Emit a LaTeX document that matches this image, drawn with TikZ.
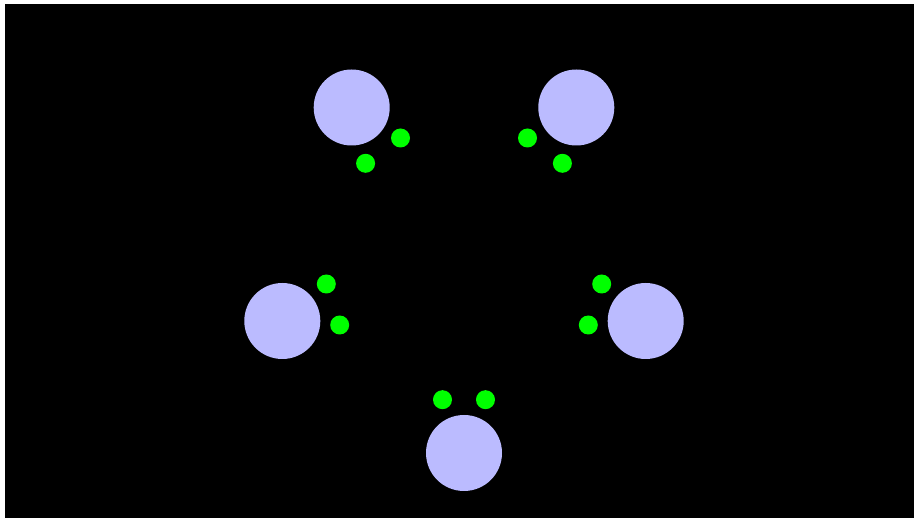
\documentclass[tikz,border=0pt]{standalone}
\usepackage{xcolor}
\usepackage{tikz}

\definecolor{lavender}{RGB}{187,187,255}
\definecolor{dotgreen}{RGB}{0,255,0}

\begin{document}
\begin{tikzpicture}[x=1pt, y=-1pt, every node/.style={circle, inner sep=0pt},
    big/.style={fill=lavender, minimum size=76pt},
    small/.style={fill=dotgreen, minimum size=19pt}]
        % Background
        \fill[white] (0,0) rectangle (914,518);
        \fill[black] (5,4) rectangle (914,518);

        % Nodes
        \node[big] (topleft) at (351.7,107.5) {};
        \node[big] (topright) at (576.3,107.5) {};
        \node[big] (left) at (282.3,321) {};
        \node[big] (right) at (645.7,321) {};
        \node[big] (bottom) at (464,453) {};

        % Dots
        \node[small] (topleft1) at (400.5,138) {};
        \node[small] (topleft2) at (365.6,163.3) {};
        \node[small] (topright1) at (527.5,138) {};
        \node[small] (topright2) at (562.4,163.3) {};
        \node[small] (left1) at (326.3,284) {};
        \node[small] (left2) at (339.7,325) {};
        \node[small] (right1) at (601.7,284) {};
        \node[small] (right2) at (588.3,325) {};
        \node[small] (bottom1) at (442.5,399.7) {};
        \node[small] (bottom2) at (485.5,399.7) {};
    \end{tikzpicture}
\end{document}
